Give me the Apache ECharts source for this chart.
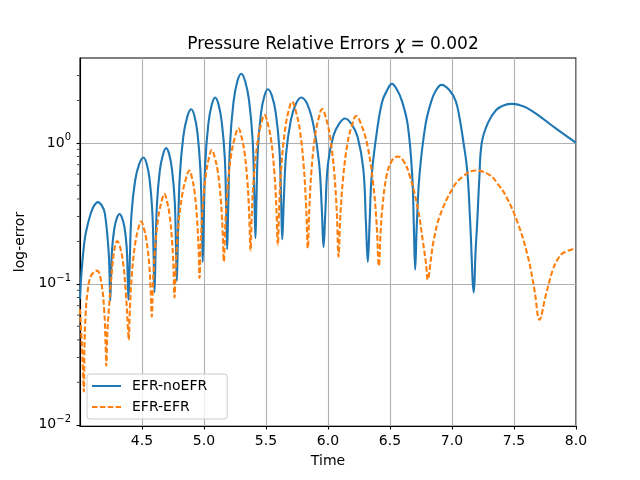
<!DOCTYPE html>
<html lang="en">
<head>
    <meta charset="UTF-8" />
    <title>Pressure Relative Errors</title>
    <script src="https://cdn.jsdelivr.net/npm/echarts@6.0.0/dist/echarts.min.js"></script>
    <style>
        html, body { margin: 0; padding: 0; background: #fff; }
        #chart { width: 640px; height: 480px; }
    </style>
</head>
<body>
    <div id="chart"></div>
    <script>
        // EFR-noEFR (solid blue)
        var timeNoEfr = [
            4.000, 4.012, 4.030, 4.047, 4.087, 4.115, 4.144, 4.175, 4.200, 4.230, 4.238, 4.244,
            4.250, 4.259, 4.278, 4.298, 4.319, 4.339, 4.359, 4.377, 4.385, 4.391,
            4.401, 4.415, 4.445, 4.478, 4.512, 4.537, 4.561, 4.583, 4.594, 4.601,
            4.609, 4.620, 4.643, 4.669, 4.695, 4.719, 4.742, 4.764, 4.774, 4.781,
            4.790, 4.804, 4.833, 4.865, 4.897, 4.923, 4.948, 4.971, 4.983, 4.990,
            4.998, 5.010, 5.035, 5.062, 5.090, 5.117, 5.143, 5.168, 5.179, 5.187,
            5.196, 5.210, 5.238, 5.268, 5.300, 5.332, 5.363, 5.392, 5.406, 5.415,
            5.423, 5.435, 5.460, 5.487, 5.515, 5.548, 5.579, 5.608, 5.622, 5.631,
            5.643, 5.662, 5.700, 5.741, 5.784, 5.834, 5.883, 5.928, 5.950, 5.964,
            5.978, 5.999, 6.043, 6.090, 6.137, 6.190, 6.239, 6.285, 6.306, 6.321,
            6.335, 6.353, 6.402, 6.437, 6.470, 6.516, 6.560, 6.598, 6.643, 6.679, 6.692, 6.703,
            6.716, 6.738, 6.786, 6.832, 6.870, 6.916, 6.980, 7.030, 7.060, 7.093, 7.124, 7.147, 7.176,
            7.190, 7.203, 7.220, 7.240, 7.289, 7.356, 7.420, 7.485, 7.540, 7.600, 7.700, 7.840, 8.000
        ];
        var errNoEfr = [
            0.078, 0.12, 0.18, 0.23, 0.317, 0.36, 0.38, 0.36, 0.317, 0.174, 0.12, 0.076,
            0.110, 0.178, 0.250, 0.294, 0.313, 0.294, 0.251, 0.179, 0.111, 0.077,
            0.141, 0.310, 0.543, 0.710, 0.787, 0.713, 0.553, 0.327, 0.155, 0.087,
            0.161, 0.358, 0.630, 0.824, 0.917, 0.832, 0.647, 0.385, 0.185, 0.105,
            0.218, 0.565, 1.107, 1.528, 1.73, 1.549, 1.161, 0.638, 0.273, 0.143,
            0.286, 0.715, 1.361, 1.854, 2.10, 1.875, 1.409, 0.778, 0.335, 0.176,
            0.371, 0.982, 1.950, 2.710, 3.09, 2.735, 2.009, 1.054, 0.424, 0.211,
            0.397, 0.908, 1.629, 2.153, 2.40, 2.153, 1.626, 0.902, 0.392, 0.207,
            0.378, 0.830, 1.445, 1.888, 2.10, 1.875, 1.33, 0.72, 0.34, 0.182,
            0.315, 0.70, 1.12, 1.37, 1.49, 1.36, 1.10, 0.65, 0.27, 0.143,
            0.262, 0.593, 1.34, 1.96, 2.30, 2.62, 2.35, 1.96, 1.34, 0.593, 0.262, 0.126,
            0.262, 0.593, 1.34, 1.96, 2.35, 2.58, 2.36, 1.98, 1.52, 1.00, 0.62, 0.27, 0.087,
            0.17, 0.27, 0.55, 1.0, 1.38, 1.71, 1.85, 1.89, 1.86, 1.78, 1.56, 1.26, 1.0
        ];

        // EFR-EFR (dashed orange)
        var timeEfr = [
            4.000, 4.012, 4.022, 4.031, 4.036, 4.045, 4.060, 4.087, 4.136, 4.168, 4.195, 4.208, 4.212,
            4.221, 4.235, 4.249, 4.275, 4.300, 4.325, 4.351, 4.370, 4.386, 4.393,
            4.403, 4.418, 4.443, 4.468, 4.493, 4.515, 4.536, 4.558, 4.570, 4.579,
            4.589, 4.605, 4.630, 4.656, 4.681, 4.701, 4.722, 4.742, 4.754, 4.762,
            4.774, 4.792, 4.823, 4.853, 4.883, 4.903, 4.924, 4.944, 4.956, 4.964,
            4.974, 4.989, 5.014, 5.038, 5.063, 5.087, 5.112, 5.136, 5.150, 5.160,
            5.172, 5.190, 5.219, 5.249, 5.278, 5.302, 5.327, 5.351, 5.365, 5.375,
            5.386, 5.403, 5.432, 5.460, 5.488, 5.515, 5.542, 5.568, 5.584, 5.595,
            5.607, 5.624, 5.653, 5.681, 5.710, 5.742, 5.774, 5.805, 5.824, 5.837,
            5.849, 5.866, 5.895, 5.924, 5.953, 5.986, 6.019, 6.052, 6.072, 6.085,
            6.099, 6.121, 6.156, 6.192, 6.227, 6.273, 6.319, 6.364, 6.392, 6.410,
            6.425, 6.438, 6.474, 6.520, 6.563, 6.610, 6.657, 6.724, 6.765, 6.790, 6.805,
            6.830, 6.851, 6.900, 7.006, 7.087, 7.190, 7.302, 7.370, 7.437, 7.531, 7.612, 7.665, 7.706,
            7.754, 7.813, 7.850, 7.894, 8.000
        ];
        var errEfr = [
            0.066, 0.042, 0.027, 0.0172, 0.035, 0.06, 0.086, 0.113, 0.124, 0.107, 0.065, 0.034, 0.0262,
            0.046, 0.07, 0.101, 0.17, 0.201, 0.18, 0.133, 0.085, 0.05, 0.040,
            0.0689, 0.116, 0.188, 0.242, 0.277, 0.248, 0.203, 0.138, 0.0906, 0.0586,
            0.103, 0.176, 0.291, 0.378, 0.435, 0.386, 0.310, 0.204, 0.129, 0.080,
            0.144, 0.251, 0.421, 0.551, 0.637, 0.564, 0.448, 0.288, 0.179, 0.110,
            0.197, 0.347, 0.586, 0.769, 0.891, 0.785, 0.619, 0.393, 0.240, 0.144,
            0.265, 0.476, 0.822, 1.091, 1.27, 1.104, 0.851, 0.516, 0.301, 0.172,
            0.321, 0.583, 1.014, 1.355, 1.58, 1.361, 1.035, 0.608, 0.343, 0.189,
            0.364, 0.685, 1.230, 1.667, 1.96, 1.660, 1.216, 0.668, 0.350, 0.179,
            0.339, 0.625, 1.104, 1.486, 1.74, 1.472, 1.076, 0.589, 0.307, 0.156,
            0.297, 0.552, 0.982, 1.321, 1.55, 1.309, 0.951, 0.516, 0.267, 0.134,
            0.24, 0.344, 0.593, 0.76, 0.80, 0.74, 0.593, 0.344, 0.20, 0.14, 0.107,
            0.15, 0.20, 0.30, 0.477, 0.577, 0.637, 0.593, 0.51, 0.416, 0.269, 0.156, 0.0906, 0.0556,
            0.0813, 0.126, 0.148, 0.165, 0.179
        ];

        var xTicks = [4.5, 5.0, 5.5, 6.0, 6.5, 7.0, 7.5, 8.0];
        var yMajorTicks = [0.01, 0.1, 1];
        var yMinorTicks = [
            0.02, 0.03, 0.04, 0.05, 0.06, 0.07, 0.08, 0.09,
            0.2, 0.3, 0.4, 0.5, 0.6, 0.7, 0.8, 0.9,
            2, 3
        ];

        function zip(xs, ys) {
            return xs.map(function (x, i) { return [x, ys[i]]; });
        }

        var font = "DejaVu Sans";
        var xMin = 4.0, xMax = 8.0;
        var yMin = 0.0098, yMax = 4.0;

        var mChart = echarts.init(document.getElementById("chart"));
        var option = {
            animation: false,
            backgroundColor: "#fff",
            textStyle: { fontFamily: font, color: "#000" },
            title: {
                text: "Pressure Relative Errors {i|χ} = 0.002",
                left: 328,
                top: 31,
                textAlign: "center",
                textStyle: {
                    fontFamily: font,
                    fontSize: 17,
                    fontWeight: "normal",
                    color: "#000",
                    rich: {
                        i: { fontFamily: font, fontSize: 17, fontStyle: "italic", color: "#000" }
                    }
                }
            },
            grid: {
                left: 80,
                right: 64,
                top: 58,
                bottom: 54,
                show: true,
                borderColor: "#000",
                borderWidth: 1.1,
                backgroundColor: "transparent"
            },
            legend: {
                left: 87,
                top: 374,
                orient: "vertical",
                itemWidth: 29,
                itemHeight: 14,
                itemGap: 7,
                padding: [5, 20, 5, 4],
                borderColor: "#cccccc",
                borderWidth: 1,
                borderRadius: 3,
                backgroundColor: "rgba(255,255,255,0.8)",
                selectedMode: false,
                itemStyle: { opacity: 0 },
                textStyle: { fontFamily: font, fontSize: 14, color: "#000", padding: [0, 0, 0, 6] },
                data: ["EFR-noEFR", "EFR-EFR"]
            },
            xAxis: {
                type: "value",
                min: xMin,
                max: xMax,
                interval: 0.5,
                name: "Time",
                nameLocation: "middle",
                nameGap: 28,
                nameTextStyle: { fontFamily: font, fontSize: 14, color: "#000" },
                axisLine: { show: true, lineStyle: { color: "#000", width: 1.1 } },
                axisTick: {
                    show: true, length: 3.5, inside: false,
                    customValues: xTicks,
                    lineStyle: { color: "#000", width: 1.1 }
                },
                axisLabel: {
                    show: true,
                    margin: 8,
                    customValues: xTicks,
                    fontFamily: font,
                    fontSize: 14,
                    color: "#000",
                    formatter: function (v) { return v.toFixed(1); }
                },
                splitLine: { show: true, lineStyle: { color: "#b0b0b0", width: 1.1 } }
            },
            yAxis: {
                type: "log",
                logBase: 10,
                min: yMin,
                max: yMax,
                name: "log-error",
                nameLocation: "middle",
                nameGap: 49,
                nameTextStyle: { fontFamily: font, fontSize: 14, color: "#000" },
                axisLine: { show: true, lineStyle: { color: "#000", width: 1.1 } },
                axisTick: {
                    show: true, length: 3.5, inside: false,
                    customValues: yMajorTicks,
                    lineStyle: { color: "#000", width: 1.1 }
                },
                axisLabel: {
                    margin: 9,
                    customValues: yMajorTicks,
                    formatter: function (v) {
                        var e = Math.log10(v);
                        if (Math.abs(e - Math.round(e)) > 0.02) return "";
                        e = Math.round(e);
                        return "{b|10}{s|" + (e < 0 ? "\u2212" + (-e) : e) + "}";
                    },
                    rich: {
                        b: { fontFamily: font, fontSize: 14, color: "#000", lineHeight: 20 },
                        s: { fontFamily: font, fontSize: 10, color: "#000", verticalAlign: "top" }
                    }
                },
                splitLine: { show: true, lineStyle: { color: "#b0b0b0", width: 1.1 } }
            },
            series: [
                {
                    name: "EFR-noEFR",
                    type: "line",
                    data: zip(timeNoEfr, errNoEfr),
                    symbol: "none",
                    showSymbol: false,
                    smooth: 0.4,
                    color: "#1f77b4",
                    lineStyle: { color: "#1f77b4", width: 2.1 },
                    z: 3
                },
                {
                    name: "EFR-EFR",
                    type: "line",
                    data: zip(timeEfr, errEfr),
                    symbol: "none",
                    showSymbol: false,
                    smooth: 0.4,
                    color: "#ff7f0e",
                    lineStyle: { color: "#ff7f0e", width: 2.1, type: [5.5, 2.4] },
                    z: 4
                },
                {
                    // minor log ticks on the left spine
                    name: "minorTicks",
                    type: "scatter",
                    data: yMinorTicks.map(function (v) { return [xMin, v]; }),
                    symbol: "rect",
                    symbolSize: [2.5, 0.9],
                    symbolOffset: [-1.8, 0],
                    itemStyle: { color: "#000" },
                    clip: false,
                    silent: true,
                    z: 6
                }
            ]
        };
        mChart.setOption(option);
    </script>
</body>
</html>
